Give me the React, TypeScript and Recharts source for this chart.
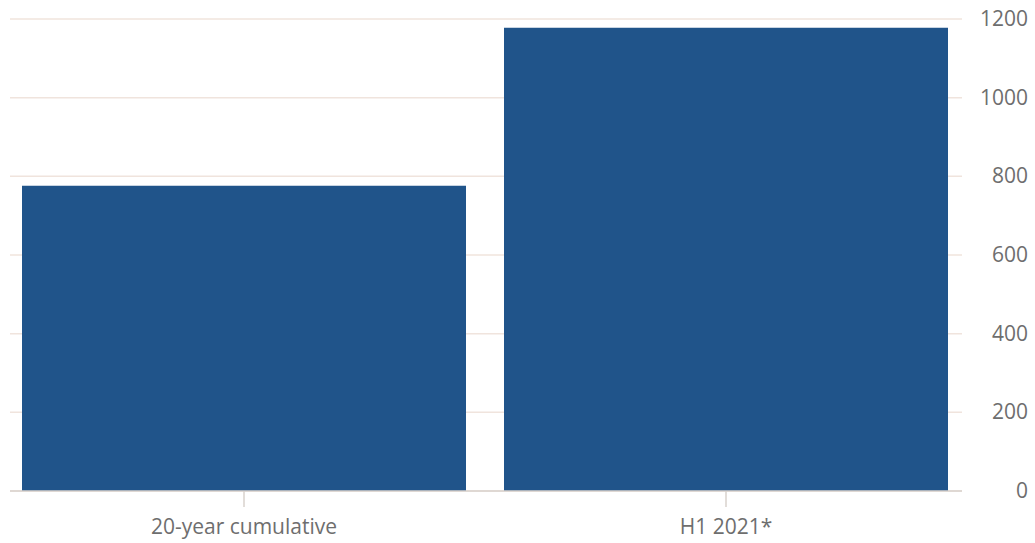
import { BarChart, Bar, XAxis, YAxis, CartesianGrid } from 'recharts'

const categories = ['20-year cumulative', 'H1 2021*']
const values = [776, 1178]
const yTicks = [0, 200, 400, 600, 800, 1000, 1200]

const chartData = categories.map((name, i) => ({ name, value: values[i] }))

const FONT = '"Open Sans", "Noto Sans", sans-serif'

// right-aligned value labels on the right side
const YTick = ({ y, payload }: any) => (
  <text
    x={1028}
    y={y}
    dy={7}
    textAnchor="end"
    fill="#6e6e6e"
    fontSize={21}
    fontFamily={FONT}
  >
    {payload.value}
  </text>
)

export default function App() {
  return (
    <div style={{ position: 'absolute', left: 0, top: 0, width: 1035, height: 543, background: '#fff' }}>
      <BarChart
        width={1035}
        height={543}
        data={chartData}
        margin={{ top: 19, right: 0, bottom: 0, left: 10 }}
        barCategoryGap={19}
      >
        <CartesianGrid vertical={false} stroke="#f0e4dd" strokeWidth={1.5} />
        <XAxis
          dataKey="name"
          height={52}
          padding={{ left: -7, right: -5 }}
          axisLine={{ stroke: '#d9d2cc', strokeWidth: 1.5 }}
          tickLine={{ stroke: '#d9d2cc', strokeWidth: 1.5 }}
          tickSize={16}
          tickMargin={12}
          tick={{ fill: '#6e6e6e', fontSize: 21, fontFamily: FONT }}
        />
        <YAxis
          orientation="right"
          width={73}
          domain={[0, 1200]}
          ticks={yTicks}
          axisLine={false}
          tickLine={false}
          tick={<YTick />}
        />
        <Bar dataKey="value" fill="#20548a" isAnimationActive={false} />
      </BarChart>
    </div>
  )
}
